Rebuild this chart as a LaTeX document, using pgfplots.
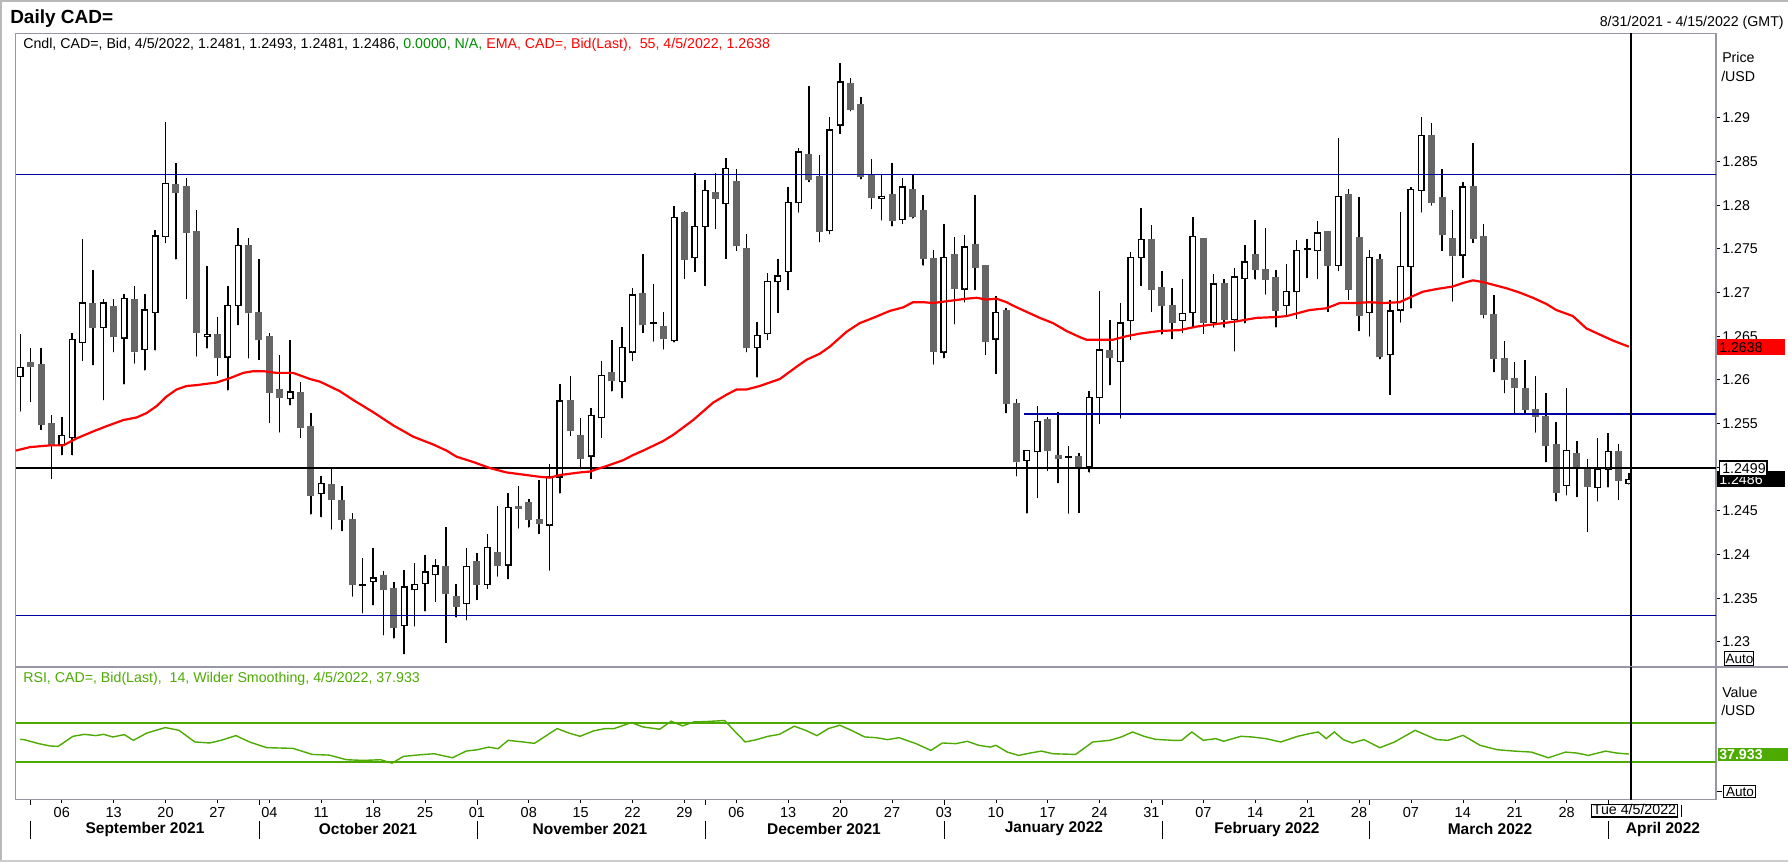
\documentclass[border=0pt]{standalone}
\usepackage{fontspec}
\setmainfont{Liberation Sans}
\usepackage{pgfplots}
\usepackage{pgfplotstable}
\pgfplotsset{compat=1.18}
\newlength\px
\setlength\px{0.25mm}
\newcommand\fs[1]{\fontsize{#1\px}{#1\px}\selectfont}
\definecolor{navyline}{RGB}{0,0,160}
\definecolor{panelgray}{RGB}{150,150,165}
\definecolor{candlegray}{RGB}{102,102,102}
\definecolor{rsigreen}{RGB}{76,170,0}
\definecolor{emared}{RGB}{255,0,0}
\definecolor{hdrgreen}{RGB}{0,140,0}

\pgfplotstableread{
i O H L C
0 1.2604 1.2653 1.2564 1.2614
4 1.2526 1.2558 1.2514 1.2536
5 1.2534 1.2654 1.2514 1.2646
6 1.2643 1.2761 1.2622 1.2688
8 1.2660 1.2693 1.2577 1.2688
10 1.2648 1.2698 1.2595 1.2693
12 1.2635 1.2698 1.2611 1.2680
13 1.2677 1.2772 1.2634 1.2765
14 1.2764 1.2895 1.2757 1.2825
18 1.2650 1.2730 1.2636 1.2652
20 1.2626 1.2707 1.2588 1.2685
21 1.2685 1.2774 1.2663 1.2754
26 1.2579 1.2646 1.2571 1.2586
29 1.2470 1.2490 1.2443 1.2481
34 1.2369 1.2408 1.2342 1.2373
37 1.2319 1.2382 1.2286 1.2363
38 1.2360 1.2390 1.2318 1.2366
39 1.2367 1.2399 1.2335 1.2380
40 1.2377 1.2395 1.2346 1.2387
43 1.2344 1.2408 1.2325 1.2386
45 1.2366 1.2424 1.2361 1.2408
47 1.2388 1.2471 1.2372 1.2454
51 1.2434 1.2504 1.2382 1.2489
52 1.2489 1.2595 1.2470 1.2576
55 1.2513 1.2568 1.2487 1.2559
56 1.2557 1.2622 1.2534 1.2605
58 1.2598 1.2661 1.2579 1.2637
59 1.2632 1.2705 1.2622 1.2697
63 1.2645 1.2799 1.2643 1.2786
65 1.2740 1.2837 1.2724 1.2776
66 1.2776 1.2829 1.2708 1.2817
68 1.2802 1.2854 1.2739 1.2842
71 1.2637 1.2666 1.2603 1.2651
72 1.2653 1.2722 1.2646 1.2713
73 1.2713 1.2738 1.2677 1.2719
74 1.2724 1.2821 1.2703 1.2803
75 1.2803 1.2865 1.2792 1.2861
78 1.2771 1.2901 1.2767 1.2886
79 1.2892 1.2963 1.2882 1.2941
83 1.2808 1.2835 1.2783 1.2810
85 1.2784 1.2831 1.2779 1.2821
89 1.2632 1.2779 1.2625 1.2740
91 1.2704 1.2766 1.2689 1.2752
94 1.2647 1.2696 1.2607 1.2677
97 1.2508 1.2520 1.2447 1.2519
98 1.2518 1.2570 1.2465 1.2552
103 1.2501 1.2587 1.2494 1.2580
104 1.2580 1.2702 1.2550 1.2634
106 1.2621 1.2688 1.2556 1.2665
107 1.2668 1.2747 1.2646 1.2740
108 1.2740 1.2797 1.2708 1.2761
112 1.2668 1.2715 1.2654 1.2676
113 1.2677 1.2787 1.2661 1.2764
115 1.2666 1.2721 1.2660 1.2710
117 1.2669 1.2728 1.2633 1.2718
118 1.2716 1.2754 1.2665 1.2735
122 1.2685 1.2733 1.2673 1.2701
123 1.2701 1.2760 1.2670 1.2748
125 1.2748 1.2782 1.2716 1.2768
127 1.2731 1.2877 1.2725 1.2810
130 1.2677 1.2749 1.2650 1.2740
132 1.2629 1.2692 1.2583 1.2679
133 1.2680 1.2792 1.2666 1.2730
134 1.2730 1.2821 1.2682 1.2818
135 1.2817 1.2901 1.2792 1.2880
139 1.2743 1.2827 1.2717 1.2821
149 1.2479 1.2591 1.2468 1.2519
152 1.2477 1.2533 1.2461 1.2498
153 1.2498 1.2539 1.2477 1.2518
155 1.2481 1.2493 1.2481 1.2486
}\up

\pgfplotstableread{
i O H L C
1 1.2620 1.2637 1.2575 1.2615
2 1.2618 1.2637 1.2543 1.2549
3 1.2550 1.2560 1.2487 1.2526
7 1.2688 1.2726 1.2617 1.2660
9 1.2684 1.2693 1.2632 1.2650
11 1.2692 1.2708 1.2619 1.2632
15 1.2824 1.2848 1.2738 1.2815
16 1.2822 1.2831 1.2693 1.2769
17 1.2770 1.2795 1.2627 1.2654
19 1.2652 1.2672 1.2605 1.2626
22 1.2754 1.2763 1.2625 1.2677
23 1.2677 1.2738 1.2623 1.2646
24 1.2650 1.2654 1.2551 1.2586
25 1.2589 1.2629 1.2540 1.2580
27 1.2585 1.2598 1.2534 1.2545
28 1.2547 1.2562 1.2446 1.2468
30 1.2480 1.2498 1.2429 1.2463
31 1.2462 1.2478 1.2427 1.2440
32 1.2440 1.2447 1.2352 1.2366
35 1.2376 1.2381 1.2308 1.2360
36 1.2361 1.2368 1.2304 1.2317
41 1.2386 1.2431 1.2299 1.2355
42 1.2352 1.2366 1.2328 1.2341
44 1.2392 1.2402 1.2348 1.2366
46 1.2402 1.2456 1.2375 1.2388
48 1.2455 1.2479 1.2430 1.2453
49 1.2460 1.2464 1.2431 1.2440
50 1.2440 1.2485 1.2424 1.2435
53 1.2576 1.2604 1.2536 1.2542
54 1.2536 1.2556 1.2498 1.2510
57 1.2608 1.2646 1.2587 1.2599
60 1.2699 1.2744 1.2654 1.2663
62 1.2661 1.2678 1.2635 1.2647
64 1.2792 1.2793 1.2716 1.2738
67 1.2815 1.2837 1.2773 1.2808
69 1.2827 1.2842 1.2748 1.2754
70 1.2751 1.2767 1.2632 1.2637
76 1.2858 1.2937 1.2827 1.2829
77 1.2833 1.2857 1.2758 1.2770
80 1.2939 1.2946 1.2908 1.2910
81 1.2915 1.2924 1.2830 1.2833
82 1.2835 1.2853 1.2796 1.2809
84 1.2812 1.2848 1.2776 1.2782
86 1.2818 1.2835 1.2785 1.2787
87 1.2794 1.2812 1.2731 1.2739
88 1.2739 1.2749 1.2618 1.2633
90 1.2744 1.2764 1.2664 1.2705
92 1.2755 1.2812 1.2703 1.2729
93 1.2731 1.2731 1.2629 1.2644
95 1.2679 1.2682 1.2562 1.2573
96 1.2573 1.2578 1.2490 1.2506
99 1.2555 1.2557 1.2496 1.2519
100 1.2513 1.2563 1.2482 1.2510
102 1.2512 1.2516 1.2448 1.2501
105 1.2634 1.2669 1.2594 1.2626
109 1.2761 1.2777 1.2678 1.2704
110 1.2706 1.2725 1.2652 1.2685
111 1.2685 1.2705 1.2647 1.2666
114 1.2762 1.2762 1.2653 1.2666
116 1.2710 1.2715 1.2660 1.2669
119 1.2743 1.2783 1.2715 1.2727
120 1.2726 1.2774 1.2698 1.2715
121 1.2717 1.2726 1.2660 1.2680
126 1.2770 1.2771 1.2678 1.2731
128 1.2812 1.2819 1.2692 1.2704
129 1.2763 1.2809 1.2656 1.2674
131 1.2738 1.2744 1.2624 1.2627
136 1.2880 1.2894 1.2800 1.2803
137 1.2809 1.2841 1.2748 1.2766
138 1.2762 1.2794 1.2690 1.2742
140 1.2821 1.2871 1.2757 1.2762
141 1.2764 1.2778 1.2671 1.2675
142 1.2675 1.2697 1.2609 1.2624
143 1.2624 1.2645 1.2585 1.2600
144 1.2601 1.2621 1.2562 1.2591
145 1.2590 1.2623 1.2562 1.2566
146 1.2566 1.2605 1.2540 1.2558
147 1.2558 1.2585 1.2506 1.2525
148 1.2526 1.2552 1.2461 1.2471
150 1.2516 1.2530 1.2466 1.2501
151 1.2500 1.2509 1.2426 1.2478
154 1.2518 1.2527 1.2463 1.2485
}\down

\pgfplotstableread{
i O H L C
33 1.2366 1.2396 1.2333 1.2365
61 1.2666 1.2710 1.2644 1.2665
101 1.2512 1.2524 1.2447 1.2511
124 1.2750 1.2761 1.2717 1.2749
}\doji

\pgfplotsset{
  wick/.style={only marks, mark=*, mark size=0.01pt, black, forget plot,
    error bars/.cd, y dir=plus, y explicit, error mark=none,
    error bar style={black, line width=1.5\px, line cap=butt}},
  body/.style n args={2}{only marks, mark=*, mark size=0.01pt, forget plot, #1,
    error bars/.cd, y dir=plus, y explicit, error mark=none,
    error bar style={#1, line width=#2, line cap=butt}},
}

\begin{document}
\begin{tikzpicture}
\path[use as bounding box] (0,0) rectangle (447mm,-215.5mm);

% ---------------- main price panel ----------------
\begin{axis}[
  at={(3.925mm,-166.7mm)}, anchor=south west,
  scale only axis, width=425.075mm, height=158.375mm,
  xmin=-0.44, xmax=163.4, ymin=1.22714, ymax=1.29969,
  axis line style={draw=panelgray, line width=1.5\px},
  xtick=\empty,
  ytick={1.23,1.235,1.24,1.245,1.25,1.255,1.26,1.265,1.27,1.275,1.28,1.285,1.29},
  yticklabels={1.23,1.235,1.24,1.245,1.25,1.255,1.26,1.265,1.27,1.275,1.28,1.285,1.29},
  ytick pos=right, yticklabel pos=right,
  tick align=outside, major tick length=4\px,
  ytick style={black, line width=1\px},
  yticklabel style={font=\fs{14.2}, anchor=west, inner sep=0pt, xshift=2\px},
  clip=true,
]
% wicks
\addplot[wick] table[x=i, y=L, y error expr={\thisrow{H}-\thisrow{L}}] {\down};
\addplot[wick] table[x=i, y=L, y error expr={\thisrow{H}-\thisrow{L}}] {\up};
\addplot[wick] table[x=i, y=L, y error expr={\thisrow{H}-\thisrow{L}}] {\doji};
% bodies
\addplot[body={candlegray}{7\px}] table[x=i, y expr={\thisrow{C}-0.00006}, y error expr={\thisrow{O}-\thisrow{C}+0.00012}] {\down};
\addplot[body={black}{7\px}] table[x=i, y expr={\thisrow{O}-0.00008}, y error expr={\thisrow{C}-\thisrow{O}+0.00016}] {\up};
\addplot[body={white}{4.2\px}] table[x=i, y expr={\thisrow{O}+0.00008}, y error expr={max(\thisrow{C}-\thisrow{O}-0.00016,0)}] {\up};
\addplot[body={black}{7\px}] table[x=i, y expr={\thisrow{C}-0.00008}, y error expr={\thisrow{O}-\thisrow{C}+0.00016}] {\doji};
% horizontal lines
\addplot[navyline, line width=1.3\px, forget plot] coordinates {(-0.44,1.2835) (163.4,1.2835)};
\addplot[navyline, line width=1.3\px, forget plot] coordinates {(-0.44,1.2330) (163.4,1.2330)};
\addplot[navyline, line width=1.3\px, forget plot] coordinates {(96.7,1.2561) (163.4,1.2561)};
\addplot[black, line width=1.3\px, forget plot] coordinates {(-0.44,1.2499) (163.4,1.2499)};
\addplot[black, line width=1.3\px, forget plot] coordinates {(155.2,1.22714) (155.2,1.29969)};
% EMA 55
\addplot[emared, line width=2.2\px, forget plot] coordinates {
(-0.45,1.2519) (0.93,1.2523) (2.86,1.2525) (4.14,1.2525) (5.43,1.2533) (7.03,1.2541) (8.32,1.2547) (9.93,1.2554) (11.21,1.2557) (12.17,1.2562) (13.14,1.2570) (14.10,1.2581) (15.06,1.2589) (16.03,1.2593) (16.99,1.2594) (18.92,1.2597) (20.20,1.2602) (21.49,1.2608) (22.45,1.2610) (23.41,1.2610) (24.70,1.2608) (26.30,1.2608) (27.91,1.2601) (28.87,1.2598) (30.80,1.2587) (32.08,1.2577) (34.01,1.2563) (35.93,1.2548) (37.86,1.2535) (39.79,1.2526) (41.08,1.2519) (42.04,1.2512) (43.64,1.2506) (45.25,1.2499) (46.86,1.2494) (48.78,1.2491) (50.07,1.2489) (51.03,1.2488) (51.99,1.2491) (53.92,1.2494) (54.88,1.2495) (55.85,1.2499) (56.17,1.2500) (58.09,1.2508) (59.06,1.2514) (60.02,1.2519) (61.95,1.2530) (62.91,1.2537) (64.84,1.2554) (66.77,1.2574) (68.05,1.2583) (69.02,1.2589) (69.98,1.2589) (71.26,1.2593) (73.19,1.2601) (74.80,1.2615) (75.76,1.2623) (77.04,1.2630) (78.00,1.2638) (79.61,1.2655) (80.89,1.2665) (82.18,1.2671) (83.79,1.2679) (85.07,1.2683) (86.03,1.2689) (87.00,1.2689) (87.96,1.2688) (89.24,1.2690) (91.17,1.2693) (92.14,1.2694) (93.10,1.2692) (94.06,1.2693) (95.03,1.2689) (95.67,1.2685) (96.95,1.2678) (98.24,1.2671) (99.52,1.2665) (100.81,1.2656) (102.09,1.2649) (102.74,1.2646) (104.02,1.2646) (105.30,1.2646) (106.59,1.2650) (107.87,1.2653) (109.80,1.2656) (111.72,1.2657) (113.33,1.2661) (115.26,1.2664) (117.19,1.2667) (119.11,1.2671) (121.04,1.2672) (122.00,1.2673) (122.97,1.2676) (124.25,1.2680) (125.86,1.2682) (127.14,1.2688) (128.75,1.2688) (130.03,1.2689) (131.31,1.2688) (132.92,1.2689) (134.20,1.2696) (135.16,1.2701) (136.45,1.2704) (138.05,1.2707) (139.02,1.2711) (139.98,1.2714) (140.94,1.2712) (141.91,1.2709) (143.19,1.2705) (144.48,1.2700) (145.76,1.2694) (147.05,1.2687) (148.01,1.2680) (149.62,1.2673) (150.90,1.2659) (152.18,1.2652) (153.47,1.2645) (155,1.2638)};
\end{axis}

% ---------------- RSI panel ----------------
\begin{axis}[
  at={(3.925mm,-199.925mm)}, anchor=south west,
  scale only axis, width=425.075mm, height=33.225mm,
  xmin=-0.44, xmax=163.4, ymin=-8.7, ymax=126.9,
  axis line style={draw=panelgray, line width=1.5\px},
  ytick=\empty,
  xtick={4,9,...,149},
  xticklabels={06,13,20,27,04,11,18,25,01,08,15,22,29,06,13,20,27,03,10,17,24,31,07,14,21,28,07,14,21,28},
  xtick pos=bottom, xticklabel pos=bottom,
  xtick style={draw=none},
  xticklabel style={font=\fs{14.5}, anchor=center, inner sep=0pt, yshift=-12.7\px},
  clip=true,
]
\addplot[rsigreen, line width=2\px, forget plot] coordinates {(-0.44,70) (163.4,70)};
\addplot[rsigreen, line width=2\px, forget plot] coordinates {(-0.44,30) (163.4,30)};
\addplot[rsigreen, line width=1.4\px, forget plot] coordinates {
(0,52.9) (0.36,52.6) (1.78,48.5) (2.88,46.1) (3.65,45.7) (5.08,56.0) (6.18,58.0) (7.27,56.7) (8.04,58.0) (8.92,55.3) (10.02,57.7) (10.90,51.9) (12.21,59.4) (13.97,64.9) (15.29,62.1) (16.83,50.2) (18.25,49.2) (19.35,51.9) (20.78,56.7) (22.10,50.2) (23.74,44.4) (26.27,43.7) (28.13,37.5) (29.78,36.8) (31.43,32.1) (33.07,31.4) (34.72,32.1) (35.82,28.6) (36.92,35.5) (38.56,37.2) (39.88,38.2) (41.64,34.1) (42.96,40.9) (44.05,42.3) (45.15,45.0) (46.03,43.3) (47.02,51.9) (48.45,50.2) (49.54,48.8) (51.74,63.9) (52.84,59.4) (53.94,56.0) (55.25,61.5) (56.35,63.9) (57.23,63.9) (58.88,70.0) (59.97,65.6) (61.62,63.2) (62.72,71.4) (63.82,66.6) (64.91,70.7) (66.01,71.0) (67.88,72.1) (68.76,62.1) (69.85,50.2) (70.95,52.6) (72.05,56.0) (73.15,58.0) (74.58,66.3) (75.67,62.1) (76.77,56.7) (77.87,63.9) (78.97,67.3) (80.07,62.1) (81.38,55.3) (82.48,54.6) (83.58,52.6) (84.68,54.6) (86.32,48.5) (87.75,41.6) (88.85,49.2) (90.16,48.5) (91.26,50.9) (92.36,46.8) (93.46,45.0) (94.01,46.8) (95.11,39.9) (96.20,36.5) (97.30,38.9) (98.40,40.9) (99.50,38.2) (101.69,37.5) (103.34,50.2) (104.99,51.9) (106.08,55.3) (107.18,60.4) (108.28,56.0) (109.38,52.9) (111.03,51.9) (111.90,51.9) (112.89,60.4) (113.99,51.9) (115.20,53.6) (115.96,50.9) (117.61,56.0) (118.71,55.3) (120.03,53.6) (121.45,50.2) (123.10,56.0) (124.20,58.7) (125.08,60.4) (125.84,53.6) (126.62,60.4) (127.49,52.6) (128.37,49.2) (129.47,52.6) (131.01,44.4) (132.43,50.2) (134.41,62.1) (135.51,57.0) (136.50,52.6) (137.59,51.9) (139.02,57.0) (140.67,46.8) (142.32,42.3) (143.96,40.9) (145.61,39.9) (147.25,34.1) (148.90,39.9) (150.00,38.9) (151.10,36.5) (152.75,40.9) (153.84,38.9) (155,37.9)};
\addplot[black, line width=1.3\px, forget plot] coordinates {(155.2,-8.7) (155.2,126.9)};
\end{axis}

% ---------------- decorations (1 unit = 1 px, y downwards) ----------------
\begin{scope}[x=0.25mm, y=-0.25mm]
  \draw[gray!55, line width=1.5\px] (0,1) -- (1788,1);
  \draw[gray!55, line width=1.5\px] (1,0) -- (1,862);
  \draw[gray!40, line width=1.5\px] (0,861) -- (1788,861);
  \draw[panelgray, line width=1.5\px] (1716,666.8) -- (1788,666.8);
  \node[anchor=base west, inner sep=0, font=\fs{19}\bfseries] at (10,23) {Daily CAD=};
  \node[anchor=base east, inner sep=0, font=\fs{14.2}] at (1784,26) {8/31/2021 - 4/15/2022 (GMT)};
  \node[anchor=base west, inner sep=0, font=\fs{14.2}] at (23,48)
    {Cndl, CAD=, Bid, 4/5/2022, 1.2481, 1.2493, 1.2481, 1.2486, \textcolor{hdrgreen}{0.0000, N/A,} \textcolor{emared}{EMA, CAD=, Bid(Last),~~55, 4/5/2022, 1.2638}};
  \node[anchor=base west, inner sep=0, font=\fs{14.2}, text=rsigreen] at (23,683)
    {RSI, CAD=, Bid(Last),~~14, Wilder Smoothing, 4/5/2022, 37.933};
  \node[anchor=west, inner sep=0, font=\fs{14.2}] at (1722,57.5) {Price};
  \node[anchor=west, inner sep=0, font=\fs{14.2}] at (1721,76) {/USD};
  \node[anchor=west, inner sep=0, font=\fs{14.2}] at (1722,692) {Value};
  \node[anchor=west, inner sep=0, font=\fs{14.2}] at (1721,710) {/USD};
  \fill[emared] (1717,339) rectangle (1785,355);
  \node[anchor=west, inner sep=0, font=\fs{14.2}] at (1719,347.5) {1.2638};
  \fill[black] (1717,471) rectangle (1785,487);
  \node[anchor=west, inner sep=0, font=\fs{14.2}, text=white] at (1719,480) {1.2486};
  \draw[black, fill=white, line width=1.2\px] (1719.5,461) rectangle (1767,476);
  \node[anchor=west, inner sep=0, font=\fs{14.2}] at (1722,468.5) {1.2499};
  \fill[rsigreen] (1718,748.5) rectangle (1788,761.5);
  \node[anchor=west, inner sep=0, font=\fs{14.2}\bfseries, text=white] at (1719,755) {37.933};
  \draw[black, fill=white, line width=1\px] (1725,651.5) rectangle (1754,666);
  \node[inner sep=0, font=\fs{13.5}] at (1739.5,659) {Auto};
  \draw[black, line width=1\px] (1717,792) -- (1722,792);
  \draw[black, fill=white, line width=1\px] (1724,786) rectangle (1756,798);
  \node[inner sep=0, font=\fs{13.5}] at (1740,792) {Auto};
  % week ticks
  \foreach \i in {4,9,...,149}{
    \draw[black, line width=1\px] ({20.3+10.38*\i},800) -- ({20.3+10.38*\i},803.5);
  }
  % month boundaries
  \foreach \i in {1,23,44,66,89,110,130,153}{
    \draw[black, line width=1\px] ({20.3+10.38*\i},821) -- ({20.3+10.38*\i},839);
    \draw[black, line width=1\px] ({20.3+10.38*\i},800) -- ({20.3+10.38*\i},805);
  }
  \foreach \xx/\mm in {145/September 2021, 368/October 2021, 590/November 2021, 824/December 2021, 1054/January 2022, 1267/February 2022, 1490/March 2022, 1663/April 2022}{
    \node[inner sep=0, font=\fs{15.5}\bfseries] at (\xx,829) {\mm};
  }
  \node[draw=black, line width=1.2\px, fill=white, inner xsep=1.5\px, inner ysep=0.5\px,
        text height=10\px, text depth=1.5\px, font=\fs{14.2}] at (1634.5,810.7) {Tue 4/5/2022};
  \draw[black, line width=1\px] (1681.5,805) -- (1681.5,817);
\end{scope}
\end{tikzpicture}
\end{document}
